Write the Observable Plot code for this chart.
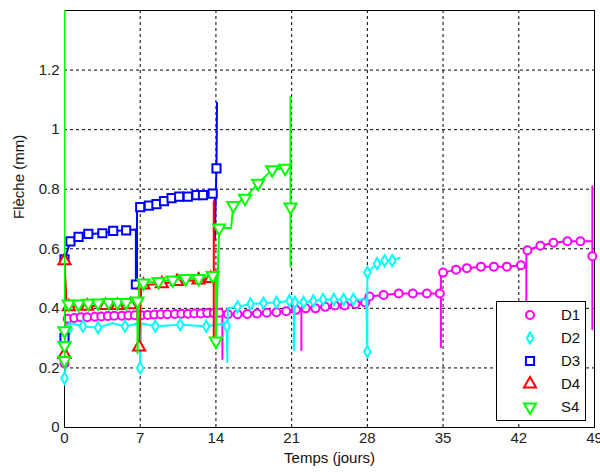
<!DOCTYPE html>
<html><head><meta charset="utf-8">
<script src="https://cdn.jsdelivr.net/npm/d3@7"></script>
<script src="https://cdn.jsdelivr.net/npm/@observablehq/plot@0.6"></script>
<style>
body{margin:0;background:#fff;font-family:"Liberation Sans",Arial,sans-serif;}
#wrap{position:relative;width:600px;height:472px;}
#legend{position:absolute;left:496px;top:301px;width:90px;height:120px;border:1px solid #000;background:#fff;box-sizing:border-box;}
</style></head><body><div id="wrap"></div>
<script>
// [day, deflection (mm), marker?]
const d1 = [
[0,0.215,1],
[0.3,0.365,1],[0.9,0.368,1],[1.5,0.37,1],[2.1,0.37,1],[2.8,0.372,1],[3.4,0.373,1],[4.0,0.374,1],[4.6,0.375,1],[5.3,0.375,1],[5.9,0.376,1],[6.5,0.377,1],[7.1,0.377,1],[7.7,0.378,1],[8.3,0.379,1],[8.9,0.38,1],[9.5,0.38,1],[10.2,0.381,1],[10.8,0.382,1],[11.4,0.382,1],[12.0,0.383,1],[12.6,0.383,1],[13.2,0.384,1],[13.8,0.384,1],
[14.3,0.385,1],[14.6,0.385,0],[14.6,0.23,0],[14.6,0.38,0],[15.1,0.38,1],[16.0,0.38,1],[16.9,0.381,1],[17.8,0.383,1],[18.7,0.385,1],[19.6,0.387,1],[20.5,0.39,1],[21.4,0.395,1],
[21.9,0.398,0],[21.9,0.26,0],[21.9,0.40,0],[22.3,0.40,1],[23.2,0.40,1],[24.1,0.405,1],[25.0,0.41,1],[25.9,0.41,1],[26.9,0.415,1],[27.8,0.42,1],[28.0,0.42,0],
[28.2,0.44,1],[29.5,0.445,1],[30.9,0.45,1],[32.2,0.45,1],[33.5,0.45,1],[34.7,0.45,1],[34.8,0.45,0],[34.8,0.27,0],[34.8,0.52,0],
[35.0,0.52,1],[36.2,0.53,1],[37.2,0.535,1],[38.5,0.54,1],[39.7,0.54,1],[40.9,0.54,1],[42.2,0.545,1],[42.7,0.545,0],[42.7,0.3,0],[42.7,0.59,0],
[42.8,0.595,1],[44.0,0.61,1],[45.2,0.62,1],[46.5,0.625,1],[47.7,0.625,1],[48.8,0.625,0],[48.8,0.81,0],[48.8,0.33,0],[48.8,0.575,1]
];
const d2 = [
[0,0.165,1],[0.4,0.33,1],[0.6,0.35,0],[1.7,0.34,1],[3.1,0.335,1],[4.4,0.35,0],[5.6,0.34,1],[6.9,0.35,0],[7.0,0.2,1],[7.1,0.35,0],
[8.4,0.34,1],[10.7,0.345,1],[13.1,0.34,1],[14.9,0.35,0],[15.0,0.34,1],[15.05,0.22,0],[15.1,0.40,0],
[16.0,0.405,1],[17.2,0.415,1],[18.4,0.418,1],[19.6,0.42,1],[20.8,0.425,1],[21.2,0.425,0],[21.2,0.26,0],
[21.3,0.42,1],[22.1,0.42,1],[23.0,0.425,1],[23.9,0.43,1],[24.9,0.43,1],[25.8,0.43,1],[26.7,0.43,1],[27.9,0.43,0],
[28.0,0.255,1],[28.0,0.52,1],[28.9,0.55,1],[29.6,0.56,1],[30.3,0.56,1],[31.0,0.57,0]
];
const d3s = [
[0,0.30,1],[0,0.565,1],[0.55,0.625,1],[1.3,0.64,1],[2.2,0.65,1],[3.5,0.652,1],[4.5,0.66,1],[5.7,0.662,1],[6.6,0.665,0],[6.6,0.48,1],[6.7,0.48,0],[6.7,0.74,0],
[7.0,0.74,1],[7.8,0.745,1],[8.5,0.75,1],[9.2,0.76,1],[9.9,0.77,1],[10.6,0.775,1],[11.4,0.775,1],[12.2,0.78,1],[12.8,0.78,1],[13.7,0.785,1],
[13.9,0.785,0],[13.9,0.63,0],[14.0,0.80,0],[14.05,0.87,1],[14.1,1.09,0]
];
const d4 = [
[0,0.245,1],[0,0.56,1],[0.2,0.405,0],[0.4,0.405,1],[2.1,0.407,1],[3.8,0.41,1],[4.9,0.41,1],[6.1,0.412,1],[6.7,0.415,0],[6.9,0.27,1],[7.1,0.478,0],
[7.3,0.478,1],[9.0,0.483,1],[10.4,0.49,1],[12.4,0.495,1],[13.5,0.50,1],[13.8,0.505,0],[13.8,0.76,0],[13.8,0.29,0]
];
const s4 = [
[0,0.225,1],[0,0.275,1],[0,0.325,1],[0,1.45,0],[0,0.42,0],
[0.4,0.415,1],[1.3,0.415,1],[2.2,0.417,1],[3.1,0.418,1],[4.1,0.42,1],[4.9,0.42,1],[5.7,0.42,1],[6.75,0.425,1],[6.75,0.25,0],[6.9,0.49,0],
[7.3,0.485,1],[8.7,0.49,1],[10.0,0.495,1],[11.2,0.50,1],[12.4,0.50,1],[13.7,0.51,1],[14.0,0.51,0],[14.0,0.29,1],
[14.3,0.67,1],[15.4,0.67,0],[15.6,0.745,1],[16.7,0.77,1],[17.9,0.82,1],[19.2,0.865,1],[20.4,0.87,1],
[20.9,0.875,0],[20.9,1.11,0],[20.9,0.74,1],[20.9,0.54,0]
];

const names = ["D1","D2","D3","D4","S4"];
const colors = ["#ff00ff","#00ffff","#0000ff","#ff0000","#00ff00"];
const symbols = ["circle","diamond","square","triangle","triangle"];
const rotations = [0,0,0,0,180];
const radii = [4,3.4,4.6,4.5,4.5];
const xTicks = [0,7,14,21,28,35,42,49];
const yTicks = [0,0.2,0.4,0.6,0.8,1,1.2];
const xTitle = "Temps (jours)";
const yTitle = "Flèche (mm)";

const series = [d1,d2,d3s,d4,s4];
const marks = [
  Plot.gridX(xTicks.slice(1,-1),{stroke:"#000",strokeOpacity:1,strokeDasharray:"3,3"}),
  Plot.gridY(yTicks.slice(1),{stroke:"#000",strokeOpacity:1,strokeDasharray:"3,3"}),
  Plot.frame({stroke:"#000",strokeWidth:1})
];
series.forEach((arr,i)=>{
  const rows = arr.map(([x,y,m])=>({x,y,m}));
  marks.push(Plot.line(rows,{x:"x",y:"y",stroke:colors[i],strokeWidth:2,clip:true}));
  marks.push(Plot.dot(rows.filter(r=>r.m),{x:"x",y:"y",symbol:symbols[i],rotate:rotations[i],r:radii[i],fill:"white",stroke:colors[i],strokeWidth:2}));
});
marks.push(Plot.axisX(xTicks,{tickSize:0,tickPadding:5,fontSize:15,label:null,tickFormat:d=>String(d),fill:"#222"}));
marks.push(Plot.axisY(yTicks,{tickSize:0,tickPadding:5,fontSize:15,label:null,tickFormat:d=>String(+d.toFixed(1)),fill:"#222"}));
marks.push(Plot.text([xTitle],{frameAnchor:"bottom",dy:35,fontSize:15,fill:"#111"}));
marks.push(Plot.text([yTitle],{frameAnchor:"left",dx:-45,rotate:-90,fontSize:15,fill:"#111"}));

const chart = Plot.plot({
  width:600,height:472,
  marginLeft:64,marginRight:6,marginTop:10,marginBottom:45,
  x:{domain:[0,49]},
  y:{domain:[0,1.4]},
  style:{fontFamily:"'Liberation Sans', Arial, sans-serif",fontSize:"15px",background:"white"},
  marks
});
const wrap = document.getElementById("wrap");
wrap.appendChild(chart);

// legend
const leg = document.createElement("div");
leg.id = "legend";
const ns = "http://www.w3.org/2000/svg";
const lsvg = document.createElementNS(ns,"svg");
lsvg.setAttribute("width",88);lsvg.setAttribute("height",118);
lsvg.style.position="absolute";lsvg.style.left="0";lsvg.style.top="0";
const symMap = {circle:d3.symbolCircle,diamond:d3.symbolDiamond,square:d3.symbolSquare,triangle:d3.symbolTriangle};
names.forEach((n,i)=>{
  const cy = 13 + i*23;
  const p = document.createElementNS(ns,"path");
  p.setAttribute("d", d3.symbol(symMap[symbols[i]], Math.PI*radii[i]*radii[i])());
  p.setAttribute("transform",`translate(33,${cy}) rotate(${rotations[i]})`);
  p.setAttribute("fill","white");p.setAttribute("stroke",colors[i]);p.setAttribute("stroke-width",2);
  lsvg.appendChild(p);
  const t = document.createElementNS(ns,"text");
  t.setAttribute("x",64);t.setAttribute("y",cy);t.setAttribute("dy","0.35em");
  t.setAttribute("font-size",15);t.setAttribute("fill","#111");
  t.setAttribute("font-family","'Liberation Sans', Arial, sans-serif");
  t.textContent = n;
  lsvg.appendChild(t);
});
leg.appendChild(lsvg);
wrap.appendChild(leg);
</script>
</body></html>
